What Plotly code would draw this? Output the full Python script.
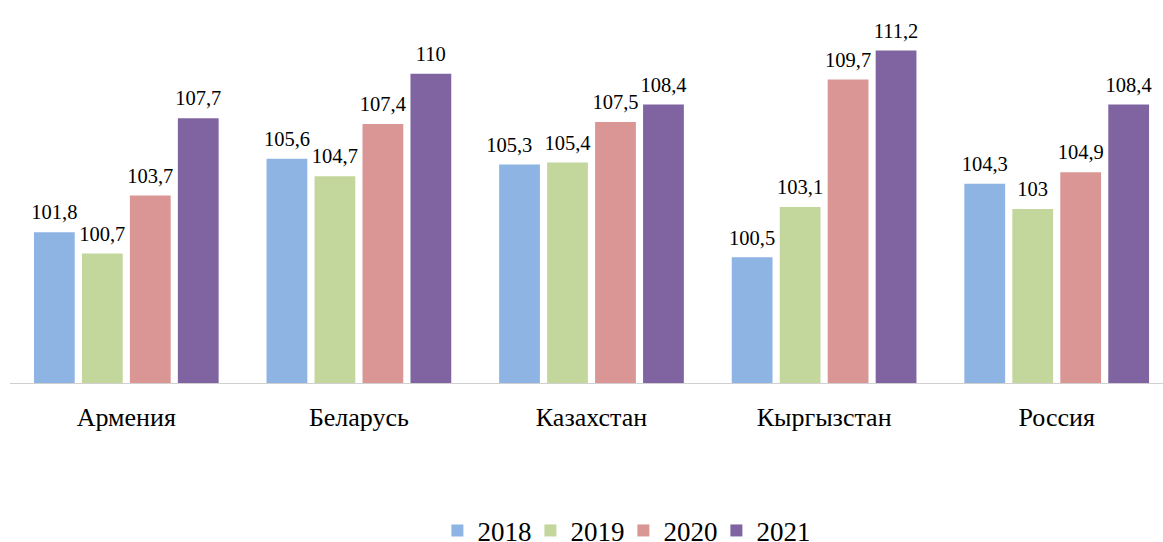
import plotly.graph_objects as go

categories = ["Армения", "Беларусь", "Казахстан", "Кыргызстан", "Россия"]
years = ["2018", "2019", "2020", "2021"]
v2018 = [101.8, 105.6, 105.3, 100.5, 104.3]
v2019 = [100.7, 104.7, 105.4, 103.1, 103.0]
v2020 = [103.7, 107.4, 107.5, 109.7, 104.9]
v2021 = [107.7, 110.0, 108.4, 111.2, 108.4]
colors = ["#8EB4E3", "#C3D69B", "#D99694", "#8064A2"]

SERIF = "Liberation Serif, Times New Roman, DejaVu Serif, serif"
LABEL_PAD = 0.3  # visual padding (axis units) between bar top and its label
# labels nudged left in the original (number of trailing no-break spaces)
LABEL_NUDGE = {("Казахстан", "2018"): 4}

def fmt(v):
    s = ("%.1f" % v).rstrip("0").rstrip(".")
    return s.replace(".", ",")

fig = go.Figure()
for name, vals, col in zip(years, [v2018, v2019, v2020, v2021], colors):
    fig.add_trace(go.Bar(
        x=categories, y=vals, name=name, offsetgroup=name,
        marker=dict(color=col, line=dict(width=0)),
        hovertemplate="%{x}: %{y}<extra>" + name + "</extra>",
    ))
    labels = [fmt(v) + "\u00a0" * LABEL_NUDGE.get((c, name), 0)
              for c, v in zip(categories, vals)]
    # transparent spacer carrying the value label slightly above the bar
    fig.add_trace(go.Bar(
        x=categories, y=[LABEL_PAD] * len(vals), base=vals, offsetgroup=name,
        marker=dict(color="rgba(0,0,0,0)", line=dict(width=0)),
        text=labels, textposition="outside",
        constraintext="none", cliponaxis=False,
        textfont=dict(family=SERIF, size=20.5, color="#000000"),
        showlegend=False, hoverinfo="skip",
    ))

fig.update_layout(
    width=1163, height=542,
    barmode="group", bargap=0.175, bargroupgap=0.15,
    margin=dict(l=10, r=0, t=35, b=159, autoexpand=False),
    plot_bgcolor="white", paper_bgcolor="white",
    font=dict(family=SERIF, size=20, color="#000000"),
    showlegend=True,
    legend=dict(orientation="h", x=0.532, xanchor="center", y=-0.425, yanchor="middle",
                font=dict(family=SERIF, size=27, color="#000000"), traceorder="normal",
                itemwidth=30, entrywidth=48, entrywidthmode="pixels"),
    xaxis=dict(showline=True, linecolor="#D0D0D0", linewidth=1, ticks="",
               range=[-0.5, 4.457],
               tickfont=dict(family=SERIF, size=26), ticklabelstandoff=11),
    yaxis=dict(range=[94, 112], visible=False, showgrid=False, zeroline=False),
)

fig.write_html("out.html", config={"displayModeBar": False},
               post_script="document.body.style.margin='0';document.body.style.overflow='hidden';")
